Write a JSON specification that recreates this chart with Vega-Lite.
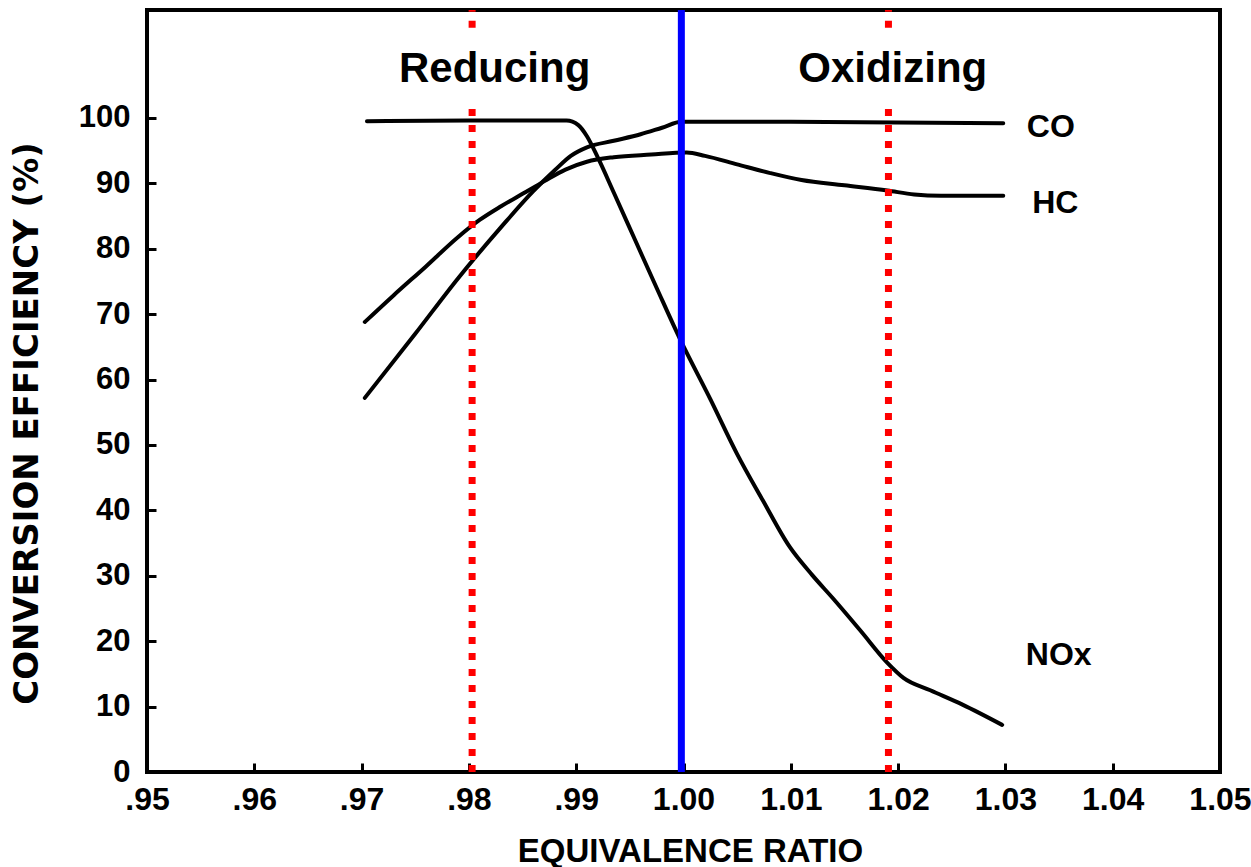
{
  "$schema": "https://vega.github.io/schema/vega-lite/v6.json",
  "width": 1073,
  "height": 762,
  "autosize": "none",
  "padding": {"left": 147, "top": 10, "right": 31, "bottom": 95},
  "background": "white",
  "config": {
    "view": {"stroke": "black", "strokeWidth": 4},
    "font": "Liberation Sans"
  },
  "datasets": {
    "curves": [
      {"series": "NOx", "ratio": 0.9705, "eff": 99.5},
      {"series": "NOx", "ratio": 0.9800, "eff": 99.6},
      {"series": "NOx", "ratio": 0.9891, "eff": 99.6},
      {"series": "NOx", "ratio": 0.9902, "eff": 98.9},
      {"series": "NOx", "ratio": 0.9910, "eff": 97.2},
      {"series": "NOx", "ratio": 0.9920, "eff": 94.0},
      {"series": "NOx", "ratio": 0.9935, "eff": 88.6},
      {"series": "NOx", "ratio": 0.9955, "eff": 81.3},
      {"series": "NOx", "ratio": 0.9975, "eff": 74.0},
      {"series": "NOx", "ratio": 0.9997, "eff": 66.1},
      {"series": "NOx", "ratio": 1.0025, "eff": 57.0},
      {"series": "NOx", "ratio": 1.0050, "eff": 48.6},
      {"series": "NOx", "ratio": 1.0074, "eff": 41.5},
      {"series": "NOx", "ratio": 1.0099, "eff": 34.4},
      {"series": "NOx", "ratio": 1.0120, "eff": 30.1},
      {"series": "NOx", "ratio": 1.0139, "eff": 26.6},
      {"series": "NOx", "ratio": 1.0165, "eff": 21.6},
      {"series": "NOx", "ratio": 1.0190, "eff": 16.7},
      {"series": "NOx", "ratio": 1.0205, "eff": 14.4},
      {"series": "NOx", "ratio": 1.0230, "eff": 12.5},
      {"series": "NOx", "ratio": 1.0260, "eff": 10.3},
      {"series": "NOx", "ratio": 1.0297, "eff": 7.2},
      {"series": "CO", "ratio": 0.9703, "eff": 57.2},
      {"series": "CO", "ratio": 0.9750, "eff": 67.0},
      {"series": "CO", "ratio": 0.9790, "eff": 75.5},
      {"series": "CO", "ratio": 0.9830, "eff": 83.3},
      {"series": "CO", "ratio": 0.9860, "eff": 88.8},
      {"series": "CO", "ratio": 0.9880, "eff": 92.0},
      {"series": "CO", "ratio": 0.9895, "eff": 94.2},
      {"series": "CO", "ratio": 0.9910, "eff": 95.5},
      {"series": "CO", "ratio": 0.9935, "eff": 96.5},
      {"series": "CO", "ratio": 0.9960, "eff": 97.5},
      {"series": "CO", "ratio": 0.9980, "eff": 98.5},
      {"series": "CO", "ratio": 0.9998, "eff": 99.4},
      {"series": "CO", "ratio": 1.0100, "eff": 99.4},
      {"series": "CO", "ratio": 1.0298, "eff": 99.2},
      {"series": "HC", "ratio": 0.9703, "eff": 68.8},
      {"series": "HC", "ratio": 0.9730, "eff": 72.9},
      {"series": "HC", "ratio": 0.9760, "eff": 77.3},
      {"series": "HC", "ratio": 0.9790, "eff": 81.8},
      {"series": "HC", "ratio": 0.9810, "eff": 84.4},
      {"series": "HC", "ratio": 0.9830, "eff": 86.5},
      {"series": "HC", "ratio": 0.9850, "eff": 88.4},
      {"series": "HC", "ratio": 0.9870, "eff": 90.3},
      {"series": "HC", "ratio": 0.9890, "eff": 92.1},
      {"series": "HC", "ratio": 0.9910, "eff": 93.3},
      {"series": "HC", "ratio": 0.9935, "eff": 94.0},
      {"series": "HC", "ratio": 0.9970, "eff": 94.4},
      {"series": "HC", "ratio": 1.0003, "eff": 94.7},
      {"series": "HC", "ratio": 1.0020, "eff": 94.2},
      {"series": "HC", "ratio": 1.0050, "eff": 92.9},
      {"series": "HC", "ratio": 1.0080, "eff": 91.6},
      {"series": "HC", "ratio": 1.0110, "eff": 90.5},
      {"series": "HC", "ratio": 1.0150, "eff": 89.7},
      {"series": "HC", "ratio": 1.0190, "eff": 88.9},
      {"series": "HC", "ratio": 1.0215, "eff": 88.3},
      {"series": "HC", "ratio": 1.0240, "eff": 88.1},
      {"series": "HC", "ratio": 1.0298, "eff": 88.1}
    ],
    "bounds": [
      {"ratio": 0.9803, "lo": 0, "hi": 102.7},
      {"ratio": 0.9803, "lo": 113.8, "hi": 116.5},
      {"ratio": 1.0191, "lo": 0, "hi": 102.7},
      {"ratio": 1.0191, "lo": 113.8, "hi": 116.5}
    ],
    "stoich": [{"ratio": 0.9998}],
    "regions": [
      {"ratio": 0.9824, "eff": 105.5, "label": "Reducing"},
      {"ratio": 1.0195, "eff": 105.5, "label": "Oxidizing"}
    ],
    "serieslabels": [
      {"ratio": 1.0320, "eff": 97.1, "label": "CO"},
      {"ratio": 1.0325, "eff": 85.5, "label": "HC"},
      {"ratio": 1.0319, "eff": 16.4, "label": "NOx"}
    ]
  },
  "layer": [
    {
      "data": {"name": "curves"},
      "mark": {"type": "line", "color": "black", "strokeWidth": 4, "interpolate": "monotone", "strokeCap": "round"},
      "encoding": {
        "x": {
          "field": "ratio", "type": "quantitative",
          "scale": {"domain": [0.95, 1.05], "nice": false, "zero": false},
          "axis": {
            "values": [0.95, 0.96, 0.97, 0.98, 0.99, 1.0, 1.01, 1.02, 1.03, 1.04, 1.05],
            "labelExpr": "datum.value < 0.995 ? replace(format(datum.value, '.2f'), '0.', '.') : format(datum.value, '.2f')",
            "domain": false, "grid": false,
            "tickSize": -9, "tickWidth": 3, "tickColor": "black",
            "labelFont": "Liberation Sans", "labelFontSize": 32, "labelFontWeight": "bold", "labelColor": "black",
            "labelPadding": 21, "labelDx": -3, "labelFlush": false, "labelOverlap": false,
            "title": "EQUIVALENCE RATIO",
            "titleFont": "Liberation Sans", "titleFontSize": 33, "titleFontWeight": "bold", "titleColor": "black",
            "titleX": 543, "titleY": 89, "titleBaseline": "alphabetic", "titleAlign": "center"
          }
        },
        "y": {
          "field": "eff", "type": "quantitative",
          "scale": {"domain": [0, 116.5], "nice": false, "zero": false},
          "axis": {
            "values": [0, 10, 20, 30, 40, 50, 60, 70, 80, 90, 100],
            "domain": false, "grid": false,
            "tickSize": -9, "tickWidth": 3, "tickColor": "black",
            "labelFont": "Liberation Sans", "labelFontSize": 31, "labelFontWeight": "bold", "labelColor": "black",
            "labelPadding": 26, "labelFlush": false, "labelOverlap": false,
            "title": "CONVERSION EFFICIENCY (%)",
            "titleFont": "DejaVu Sans", "titleFontSize": 34, "titleFontWeight": "bold", "titleColor": "black",
            "titleX": -120, "titleY": 413, "titleBaseline": "middle", "titleAlign": "center", "titleAngle": -90
          }
        },
        "detail": {"field": "series", "type": "nominal"}
      }
    },
    {
      "data": {"name": "bounds"},
      "mark": {"type": "rule", "color": "#ff0000", "strokeWidth": 7, "strokeDash": [7, 9], "strokeCap": "butt"},
      "encoding": {
        "x": {"field": "ratio", "type": "quantitative"},
        "y": {"field": "lo", "type": "quantitative"},
        "y2": {"field": "hi"}
      }
    },
    {
      "data": {"name": "stoich"},
      "mark": {"type": "rule", "color": "#0000ff", "strokeWidth": 7},
      "encoding": {
        "x": {"field": "ratio", "type": "quantitative"}
      }
    },
    {
      "data": {"name": "regions"},
      "mark": {"type": "text", "font": "Liberation Sans", "fontSize": 42, "fontWeight": "bold", "color": "black", "align": "center", "baseline": "alphabetic"},
      "encoding": {
        "x": {"field": "ratio", "type": "quantitative"},
        "y": {"field": "eff", "type": "quantitative"},
        "text": {"field": "label"}
      }
    },
    {
      "data": {"name": "serieslabels"},
      "mark": {"type": "text", "font": "Liberation Sans", "fontSize": 32, "fontWeight": "bold", "color": "black", "align": "left", "baseline": "alphabetic"},
      "encoding": {
        "x": {"field": "ratio", "type": "quantitative"},
        "y": {"field": "eff", "type": "quantitative"},
        "text": {"field": "label"}
      }
    }
  ]
}
